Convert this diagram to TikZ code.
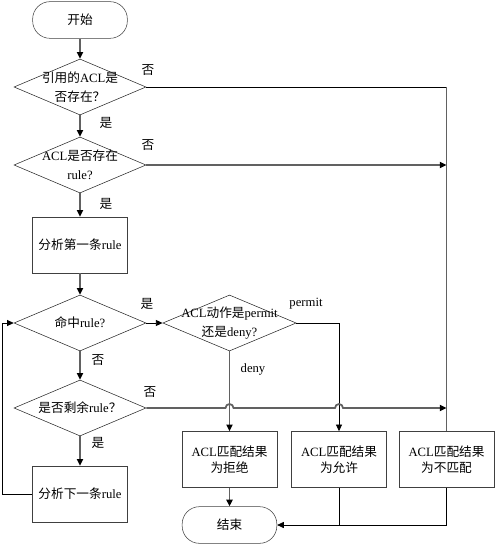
\documentclass[tikz,border=0pt]{standalone}
\usepackage{fontspec}
\setmainfont{Liberation Serif}
\newfontfamily\cjk{Noto Sans CJK SC}
\newcommand{\zh}[1]{{\cjk #1}}
\usetikzlibrary{arrows.meta}
\usetikzlibrary{shapes.geometric}
\usetikzlibrary{calc}

\begin{document}
\begin{tikzpicture}[x=0.75pt, y=0.75pt,
    font=\fontsize{9.5}{12}\selectfont,
    term/.style={draw=black!75, rounded corners=13pt, minimum width=71pt, minimum height=27.5pt},
    proc/.style={draw=black!75, minimum width=71.5pt, minimum height=42pt, align=center},
    decide/.style={diamond, draw=black!85, inner sep=0pt, minimum width=99pt, minimum height=42pt},
    flow/.style={draw=black!62, line width=1.3pt},
    link/.style={draw=black, line width=0.6pt},
    tip/.style={-{Triangle[length=5pt, width=4.5pt, color=black]}},
    lbl/.style={inner sep=1pt}]
    \useasboundingbox (0,0) rectangle (494,-545);

    \node[term] (start) at (80,-20) {\zh{开始}};
    \node[decide, label={[align=center, font=\fontsize{9.5}{14}\selectfont]center:{\zh{引用的}ACL\zh{是}\\\zh{否存在？}}}] (hasacl) at (80,-87) {};
    \node[decide, label={[align=center, font=\fontsize{9.5}{14}\selectfont]center:{ACL\zh{是否存在}\\rule?}}] (hasrule) at (80,-165) {};
    \node[proc] (first) at (80,-245) {\zh{分析第一条}rule};
    \node[decide, label={center:{\zh{命中}rule?}}] (hit) at (80,-323) {};
    \node[decide, label={center:{\zh{是否剩余}rule\zh{？}}}] (remain) at (80,-408) {};
    \node[proc] (next) at (80,-494) {\zh{分析下一条}rule};
    \node[decide, minimum width=100pt, label={[align=center, font=\fontsize{9.5}{14}\selectfont]center:{ACL\zh{动作是}permit\\\zh{还是}deny?}}] (action) at (229.5,-323) {};
    \node[proc] (deny) at (229.5,-459.5) {ACL\zh{匹配结果}\\\zh{为拒绝}};
    \node[proc] (permit) at (339,-459.5) {ACL\zh{匹配结果}\\\zh{为允许}};
    \node[proc] (nomatch) at (446.5,-459.5) {ACL\zh{匹配结果}\\\zh{为不匹配}};
    \node[term] (stop) at (229.5,-525) {\zh{结束}};

    % main column
    \draw[flow,tip] (start) -- (hasacl);
    \draw[flow,tip] (hasacl) -- (hasrule);
    \draw[flow,tip] (hasrule) -- (first);
    \draw[flow,tip] (first) -- (hit);
    \draw[flow,tip] (hit) -- (remain);
    \draw[flow,tip] (remain) -- (next);
    \draw[link,tip] (next.west) -- ++(-30,0) |- (hit.west);

    % rule matched
    \draw[link,tip] (hit.east) -- (action.west);
    \draw[flow,tip] (action.south) -- (deny.north);
    \draw[link,tip] (action.east) -| (permit.north);

    % no match
    \draw[link] (hasacl.east) -- (hasacl.east -| nomatch.north);
    \draw[flow] (hasacl.east -| nomatch.north) -- (nomatch.north);
    \draw[flow,tip] (hasrule.east) -- (hasrule.east -| nomatch.north);
    \draw[flow,tip] (remain.east) -- ([xshift=-3pt]action.south |- remain.east) arc (180:0:3pt)
        -- ([xshift=-3pt]permit.north |- remain.east) arc (180:0:3pt)
        -- (remain.east -| nomatch.north);

    % to end
    \draw[flow,tip] (deny) -- (stop);
    \draw[link] (permit.south) -- (permit.south |- stop.east);
    \draw[link,tip] (nomatch.south) |- (stop.east);

    % labels
    \node[lbl] (n1) at (148,-70) {\zh{否}};
    \node[lbl] (y1) at (106,-123) {\zh{是}};
    \node[lbl] (n2) at (148,-145) {\zh{否}};
    \node[lbl] (y2) at (106,-204) {\zh{是}};
    \node[lbl] (y3) at (147,-304) {\zh{是}};
    \node[lbl] (n3) at (98,-360) {\zh{否}};
    \node[lbl] (n4) at (150,-392) {\zh{否}};
    \node[lbl] (y4) at (98,-443) {\zh{是}};
    \node[lbl] (pm) at (306,-304) {permit};
    \node[lbl] (dn) at (253,-369) {deny};
\end{tikzpicture}
\end{document}
